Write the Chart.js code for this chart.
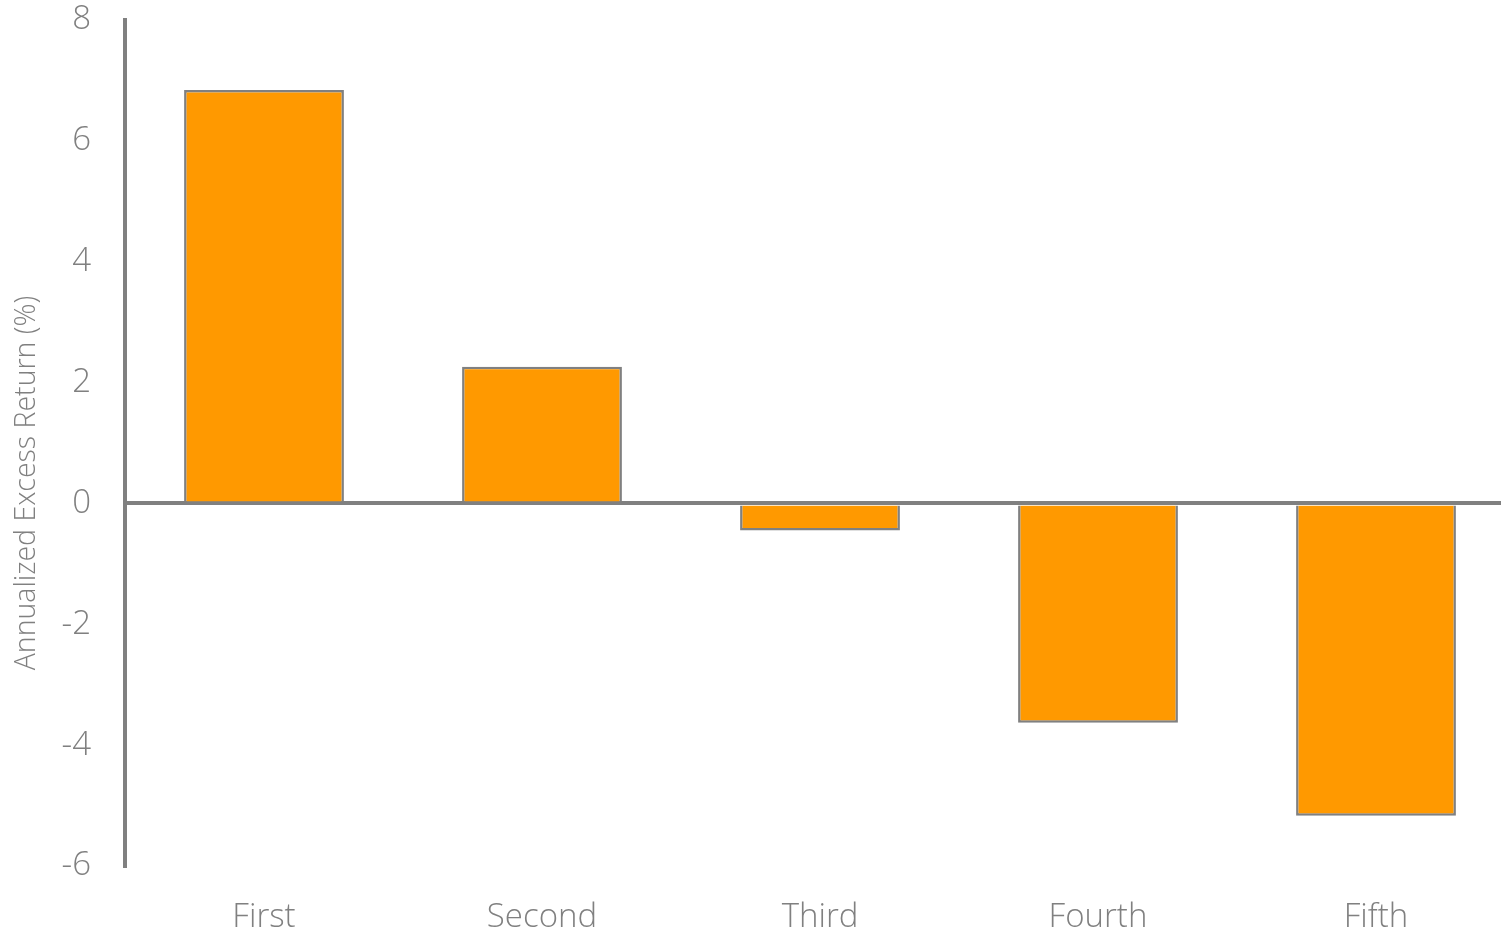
<!DOCTYPE html>
<html lang="en">

<head>
    <meta charset="UTF-8">
    <title>Annualized Excess Return</title>
    <script src="https://cdn.jsdelivr.net/npm/chart.js"></script>
    <style>
        html,
        body {
            margin: 0;
            padding: 0;
            background: #fff;
            overflow: hidden;
        }

        /* the plot runs a little past the right edge of the page */
        #chart {
            display: block;
        }
    </style>
</head>

<body>
    <canvas id="chart" width="1515" height="932"></canvas>

    <script>
        // Quintile labels and annualized excess return (%)
        const categories = ['First', 'Second', 'Third', 'Fourth', 'Fifth'];
        const excessReturn = [6.84, 2.26, -0.45, -3.63, -5.17];
        const yTicks = [-6, -4, -2, 0, 2, 4, 6, 8];
        const yTitle = 'Annualized Excess Return (%)';

        const grey = '#808080';
        const fontFamily = "'Open Sans', sans-serif";
        const tickFont = { family: fontFamily, size: 33, weight: '300' };

        // y-axis title, drawn a little below the middle of the axis
        const yTitlePlugin = {
            id: 'yTitle',
            afterDraw(chart) {
                const ctx = chart.ctx;
                const area = chart.chartArea;
                ctx.save();
                ctx.translate(27, (area.top + area.bottom) / 2 + 40);
                ctx.rotate(-Math.PI / 2);
                ctx.font = `300 28.5px ${fontFamily}`;
                ctx.fillStyle = grey;
                ctx.textAlign = 'center';
                ctx.textBaseline = 'middle';
                ctx.fillText(yTitle, 0, 0);
                ctx.restore();
            }
        };

        new Chart(document.getElementById('chart'), {
            type: 'bar',
            data: {
                labels: categories,
                datasets: [{
                    data: excessReturn,
                    backgroundColor: '#ff9900',
                    borderColor: grey,
                    borderWidth: 2.5,
                    barPercentage: 0.575,
                    categoryPercentage: 1
                }]
            },
            options: {
                responsive: false,
                animation: false,
                layout: { padding: { top: 20, right: 0, bottom: 0, left: 0 } },
                plugins: {
                    legend: { display: false },
                    tooltip: { enabled: false }
                },
                scales: {
                    x: {
                        afterFit: (scale) => { scale.height = 66; },
                        grid: { display: false },
                        border: { display: false },
                        ticks: {
                            color: grey,
                            font: tickFont,
                            padding: 24,
                            maxRotation: 0
                        }
                    },
                    y: {
                        min: -6,
                        max: 8,
                        afterFit: (scale) => {
                            scale.width = 125;
                            scale.paddingTop = 0;
                            scale.paddingBottom = 0;
                        },
                        afterBuildTicks: (scale) => {
                            scale.ticks = yTicks.map(v => ({ value: v }));
                        },
                        border: { display: true, color: grey, width: 4 },
                        grid: {
                            drawTicks: false,
                            lineWidth: 4,
                            // only the zero line is shown
                            color: (ctx) => ctx.tick && ctx.tick.value === 0 ? grey : 'rgba(0,0,0,0)'
                        },
                        ticks: {
                            color: grey,
                            font: tickFont,
                            padding: 34
                        }
                    }
                }
            },
            plugins: [yTitlePlugin]
        });
    </script>
</body>

</html>
